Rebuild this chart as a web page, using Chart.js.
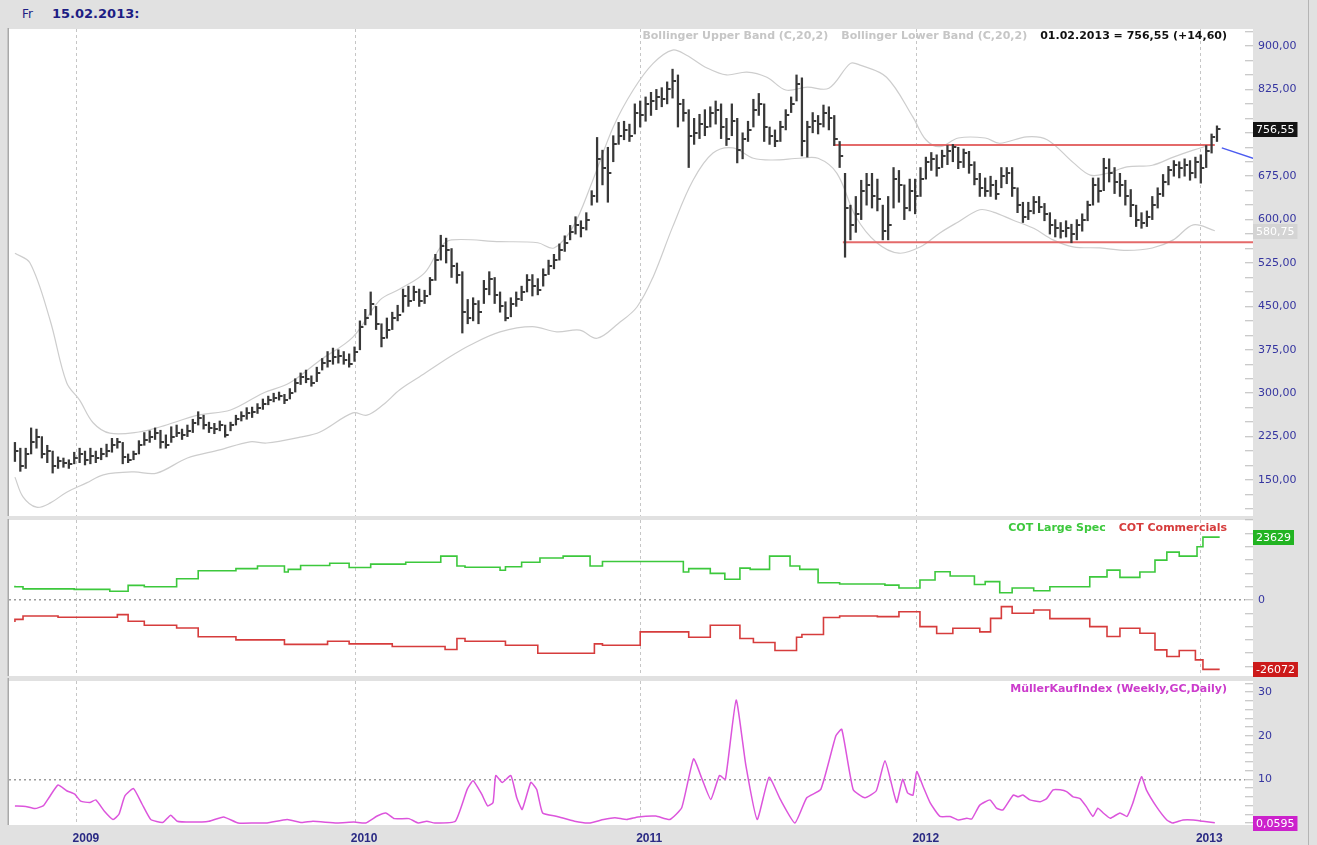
<!DOCTYPE html>
<html>
<head>
<meta charset="utf-8">
<title>GC weekly</title>
<script src="https://cdn.jsdelivr.net/npm/chart.js@4.4.1/dist/chart.umd.min.js"></script>
<style>
  html, body { margin: 0; padding: 0; }
  body { width: 1317px; height: 845px; background: #e1e1e1; position: relative; overflow: hidden; font-family: "DejaVu Sans", sans-serif; }
  canvas { position: absolute; left: 0; }
  .head { position: absolute; top: 7px; color: #1d1d84; white-space: pre; }
  #edge { position: absolute; left: 1308px; top: 0; width: 1px; height: 845px; background: #b4b4b4; }
</style>
</head>
<body>
<div class="head" style="left:22px;font-size:12px">Fr</div>
<div class="head" style="left:52px;font-size:13px;font-weight:bold;top:6px">15.02.2013:</div>
<div id="edge"></div>
<canvas id="priceChart" width="1317" height="490" style="top:28px"></canvas>
<canvas id="cotChart" width="1317" height="159" style="top:519px"></canvas>
<canvas id="kaufChart" width="1317" height="167" style="top:678px"></canvas>
<script>
"use strict";

Chart.defaults.font.family = "'DejaVu Sans', sans-serif";

// x axis runs in weeks, bar 0 = first weekly bar on the left
const weekMin = -1.1;
const weekMax = 228.2;
const yearWeeks = [11.5, 63.1, 116.0, 167.3, 219.9];
const yearLabels = ["2009", "2010", "2011", "2012", "2013"];

// weekly bars
const highs = [
  215, 205, 205, 240, 238, 225, 210, 200, 190, 188, 185, 198,
  205, 200, 205, 200, 205, 212, 222, 222,
  215, 195, 200, 218, 232, 235, 240, 236, 228, 242,
  245, 238, 245, 255, 268, 262, 250, 248, 252, 245,
  250, 262, 268, 275, 276, 282, 290, 295, 300, 302,
  298, 308, 325, 335, 340, 330, 345, 360, 372, 378,
  375, 372, 368, 380, 425, 445, 475, 450, 420, 430,
  440, 452, 480, 485, 485, 480, 478, 500, 540, 573,
  568, 550, 525, 510, 462, 465, 460, 495, 510, 500,
  475, 458, 465, 475, 485, 505, 505, 498, 515, 530,
  540, 558, 572, 590, 605, 598, 612, 650, 742, 720,
  725, 745, 768, 770, 765, 800, 805, 812, 820, 825,
  828, 838, 860, 850, 808, 790, 775, 782, 790, 795,
  805, 800, 775, 800, 775, 750, 770, 808, 818, 800,
  760, 755, 770, 790, 812, 850, 845, 770, 785, 780,
  798, 795, 780, 735, 680, 625, 640, 668, 680, 680,
  670, 625, 640, 690, 685, 660, 670, 670, 690, 708,
  716, 712, 720, 728, 730, 725, 722, 718, 700, 680,
  672, 675, 668, 690, 690, 690, 655, 630, 630, 640,
  640, 628, 612, 600, 595, 598, 592, 600, 610, 632,
  672, 672, 706, 705, 690, 680, 668, 652, 625, 612,
  615, 640, 655, 678, 692, 702, 700, 705, 702, 708,
  712, 728, 748, 762
];
const lows = [
  182, 165, 170, 195, 205, 188, 180, 162, 170, 172, 170, 178,
  180, 176, 178, 180, 185, 190, 198, 205,
  178, 180, 185, 195, 210, 215, 220, 205, 205, 215,
  225, 220, 225, 232, 245, 238, 232, 230, 235, 224,
  235, 245, 252, 255, 258, 265, 272, 280, 285, 288,
  282, 290, 302, 315, 318, 312, 320, 340, 345, 350,
  352, 350, 345, 355, 375, 418, 435, 410, 380, 395,
  410, 425, 440, 450, 460, 450, 455, 470, 495, 530,
  525, 500, 490, 404, 420, 425, 420, 455, 470, 455,
  440, 425, 432, 450, 460, 475, 468, 470, 485, 505,
  515, 530, 545, 565, 575, 570, 582, 625, 630, 660,
  630, 700, 730, 738, 735, 748, 760, 770, 780, 790,
  795, 800, 810, 760, 770, 690, 730, 740, 745, 760,
  765, 740, 728, 745, 698, 705, 735, 760, 780, 735,
  730, 726, 735, 755, 785, 805, 710, 708, 750, 748,
  760, 755, 728, 690, 535, 565, 578, 600, 625, 620,
  615, 565, 565, 620, 630, 600, 615, 610, 640, 670,
  685, 675, 690, 695, 700, 688, 690, 680, 660, 640,
  640, 640, 635, 655, 662, 640, 612, 595, 600, 610,
  612, 598, 575, 570, 568, 570, 560, 565, 580, 598,
  625, 630, 650, 665, 645, 640, 625, 605, 588, 585,
  588, 600, 620, 640, 660, 675, 672, 675, 668, 672,
  663, 690, 715, 735
];
const closes = [
  200, 175, 195, 215, 225, 195, 200, 175, 182, 180, 178, 188,
  195, 185, 192, 188, 195, 200, 210, 215,
  190, 185, 195, 210, 220, 225, 232, 215, 210, 225,
  232, 228, 235, 248, 258, 245, 240, 238, 245, 228,
  245, 255, 260, 265, 268, 275, 282, 288, 292, 296,
  288, 300, 318, 328, 325, 318, 335, 352, 355, 362,
  365, 358, 350, 372, 415, 430, 455, 420, 395, 410,
  430, 435, 468, 460, 475, 460, 468, 495, 530, 555,
  548, 520, 505, 440, 430, 455, 440, 480, 498, 470,
  450, 430, 455, 462, 475, 495, 485, 478, 505, 520,
  530, 548, 560, 578, 590, 585, 600, 640, 705, 690,
  680, 730, 745, 755, 745, 785, 780, 800, 805, 812,
  808, 825, 840, 800, 785, 745, 750, 765, 760, 785,
  790, 760, 740, 770, 720, 740, 755, 790, 800, 760,
  745, 735, 760, 780, 800, 835, 735, 760, 770, 765,
  785, 775, 740, 710, 620, 590, 610, 650, 660, 640,
  635, 580, 590, 670, 660, 620, 650, 640, 670, 700,
  705, 690, 710, 718, 725, 700, 715, 695, 670, 655,
  650, 660, 645, 675, 680, 655, 625, 605, 615, 630,
  622, 610, 590, 585, 580, 585, 575, 590, 600, 625,
  660, 650, 690, 680, 665, 660, 640, 625, 600, 595,
  605, 625, 645, 665, 685, 695, 690, 695, 680, 700,
  690, 718, 742, 756.55
];

// Bollinger bands (C,20,2)
const upperWeeks = [0, 2.8, 6.5, 9.6, 12, 14.5, 17.6, 23, 27, 34, 40, 46, 51, 56.6, 62.7, 67.7, 71.4, 76, 79, 81,
  90, 97, 100, 103.5, 107, 111, 114.7, 118.4, 122, 124.6, 128.4, 132, 135.8, 139.5, 143, 147, 151, 155, 156.8, 161.7,
  166.6, 169, 171.6, 175, 180, 182.7, 187.7, 191.5, 196.4, 199.5, 202.6, 206.3, 211, 214.9, 218.6, 221.7];
const upperBand = [542, 525, 427, 318, 288, 249, 231, 233, 242, 262, 271, 300, 318, 357, 397, 461, 480, 508, 553, 565,
  562, 560, 551, 587, 663, 760, 824, 870, 893, 884, 862, 850, 855, 846, 824, 829, 827, 870, 867, 846,
  777, 738, 726, 741, 741, 732, 743, 738, 698, 677, 680, 691, 694, 708, 720, 729];
const lowerWeeks = [0, 1.5, 4, 6.5, 9.6, 13.3, 16.4, 22, 26.3, 32, 38, 43.6, 46.7, 52.9, 56.6, 62.7, 65.3, 68.3, 71.4, 75,
  80.7, 84.4, 90, 96, 100.5, 104.8, 108, 112, 115.4, 118.4, 122, 125.8, 129.5, 133.2, 137, 140.6, 145.6, 149, 152.5, 156,
  159.9, 164, 168, 171.6, 175, 179, 181.5, 185.2, 189, 192.6, 196.3, 201.3, 206.3, 211, 214.9, 218.6, 222.6];
const lowerBand = [155, 121, 103, 110, 129, 145, 159, 164, 162, 188, 202, 216, 214, 224, 233, 266, 262, 280, 306, 328,
  363, 383, 406, 415, 406, 409, 395, 421, 449, 501, 587, 668, 715, 724, 706, 703, 706, 706, 680, 605,
  560, 542, 553, 577, 596, 617, 613, 599, 585, 565, 553, 551, 547, 551, 565, 591, 580.75];

// drawn lines
const resistanceWeeks = [151.8, 222.6];
const resistanceLevels = [729, 729];
const supportWeeks = [153.6, 229.7];
const supportLevels = [561, 561];
const trendWeeks = [223.9, 229.7];
const trendLevels = [724, 706];

const priceTickLabels = [150, 225, 300, 375, 450, 525, 600, 675, 750, 825, 900];

// COT
const specWeeks = [0, 1.5, 11, 17.6, 21, 24, 30, 34, 41, 45, 50, 50.7, 53, 58.4, 62, 66, 72.5, 79, 82, 83.5,
  90, 91, 94, 97.4, 101.7, 106.7, 109, 112, 124, 125, 129, 131.7, 134.5, 136.4, 140, 143.8, 145.6, 149, 153, 156.8,
  161.4, 164, 167.9, 170.7, 173.5, 178, 180, 182.7, 185, 189, 192, 199.4, 202.6, 205, 208.7, 211.5, 213.7, 216, 219.3, 220.4,
  222.3, 223.5];
const specValues = [5400, 5000, 4200, 4000, 3300, 5500, 5000, 8000, 11000, 11800, 12800, 10500, 11500, 13000, 13800, 12200, 13500, 14200, 16500, 12800,
  12300, 11200, 12500, 14200, 15800, 16500, 12800, 14500, 14500, 10500, 11800, 10000, 7800, 12000, 11500, 16500, 12800, 11500, 6500, 6000,
  6000, 5600, 4500, 7500, 10600, 9000, 5800, 6900, 2700, 4500, 3500, 5000, 8700, 11250, 8500, 10500, 15000, 18000, 16500, 20000,
  23629, 23629];
const commWeeks = [0, 1.5, 8, 19, 21, 24, 30, 34, 41, 50, 58, 62, 70, 79.8, 82, 83.5, 91, 97, 107.5, 109,
  116, 125, 129, 134.5, 137, 141, 145, 146, 150, 153, 160, 164, 167.9, 171, 174, 179, 181, 183, 185, 189,
  192, 199.4, 202.6, 205, 208.7, 211.5, 213.7, 216, 219, 220.4, 222.3, 223.5];
const commValues = [-8300, -7300, -6000, -6500, -5500, -8000, -9500, -10500, -13800, -15000, -16700, -15500, -16500, -17500, -18600, -14500, -15500, -17000, -20000, -16500,
  -17000, -12000, -14000, -9500, -14500, -16000, -19000, -14000, -13000, -6600, -6000, -6250, -4400, -10000, -12600, -10600, -12000, -6900, -2500, -5000,
  -3750, -7000, -10000, -13750, -10600, -12500, -18750, -21250, -19000, -22500, -26072, -26072];
const cotTickLabels = [0];

// MüllerKaufIndex
const kaufWeeks = [0, 2, 3.7, 5.3, 6.3, 8, 9.6, 11.1, 12.2, 13.9, 15, 16.6, 18.2, 19.3, 20.4, 22, 23.6, 25.2, 27.4, 28.9,
  30.1, 32.7, 36, 38.7, 41.4, 44.5, 46.8, 50.5, 53.2, 55.3, 59.7, 62.9, 65.1, 67.2, 68.8, 70.4, 73.1, 74.8, 76.4, 77.9,
  81.7, 83.9, 85, 86.6, 87.7, 88.7, 89.2, 90.4, 92, 93.1, 94.1, 95.7, 96.8, 97.9, 100.6, 103.8, 106.5, 109.2, 111.3, 113.5,
  115.6, 118.9, 121.5, 123.7, 125.9, 127.5, 129.1, 130.7, 131.8, 133.8, 135.6, 137.7, 139.9, 142, 144.7, 146.9, 149.5, 152.3, 153.4, 155.5,
  157.7, 159.8, 161.4, 163.1, 163.6, 164.7, 165.6, 166.6, 167.3, 168.5, 169.8, 171.6, 173.5, 175, 176.6, 177.5, 179, 180.9, 182.1, 183.3,
  185.2, 186.1, 187, 188.3, 190.2, 191.4, 192.6, 193.9, 195.1, 196.3, 197.6, 198.8, 200, 200.9, 201.9, 203.2, 205, 206.3, 207.4, 209,
  209.9, 211.8, 213.7, 214.8, 216.7, 218.6, 220.4, 222.6];
const kaufValues = [3.9, 3.8, 3.3, 4.0, 5.8, 8.7, 7.4, 6.6, 5.0, 4.7, 5.3, 2.7, 0.8, 2.0, 6.2, 7.9, 4.3, 0.8, 0.1, 1.8,
  0.4, 0.2, 0.4, 1.4, 0, 0, 0, 0.8, 0.1, 0.4, 0, 0.2, 0, 1.6, 2.3, 1.0, 1.0, 0, 0.4, 0,
  0.4, 7.7, 9.7, 6.6, 3.9, 4.7, 10.9, 9.3, 10.9, 5.8, 3.1, 9.3, 7.7, 2.3, 1.5, 0.4, 0, 0.8, 1.2, 0.8,
  1.4, 1.6, 0.8, 3.5, 14.7, 10, 5.4, 10.9, 10, 28.2, 13.2, 0.8, 10.5, 5.4, 0, 5.8, 7.7, 20, 21.5, 7.7,
  5.8, 7.4, 14.3, 6.6, 4.7, 10, 6.9, 6.4, 11.8, 8.3, 4.6, 1.5, 1.5, 0.7, 1.1, 0.9, 4.1, 5.3, 3.4, 3.0,
  6.4, 6.0, 6.4, 5.3, 4.9, 5.6, 7.6, 7.6, 7.2, 6.0, 5.6, 3.7, 1.5, 3.4, 2.3, 1.1, 2.3, 1.5, 4.6, 10.6,
  7.6, 3.7, 0.7, 0, 0.7, 0.7, 0.4, 0.0595];
const kaufTickLabels = [10, 20, 30];

function points(xs, ys) {
  return xs.map((x, i) => ({ x: x, y: ys[i] }));
}
function comma(v, digits) {
  return v.toFixed(digits).replace(".", ",");
}
function range(from, to, step) {
  const out = [];
  for (let v = from; v <= to; v += step) out.push(v);
  return out;
}
// keep the plot area exactly where the layout padding puts it
function noOverflow(s) {
  s.paddingTop = 0;
  s.paddingBottom = 0;
  s.paddingLeft = 0;
  s.paddingRight = 0;
}

// white plot paper + left frame line
const paperPlugin = {
  id: "paper",
  beforeDraw(chart) {
    const ctx = chart.ctx;
    const a = chart.chartArea;
    ctx.save();
    ctx.fillStyle = "#ffffff";
    ctx.fillRect(a.left, a.top, a.right - a.left + 8, a.bottom - a.top);
    ctx.strokeStyle = "#a9a9a9";
    ctx.lineWidth = 1.5;
    ctx.beginPath();
    ctx.moveTo(a.left - 0.75, 0);
    ctx.lineTo(a.left - 0.75, a.bottom);
    ctx.stroke();
    ctx.restore();
  }
};

function textRow(items, y) {
  return {
    id: "textRow",
    afterDraw(chart) {
      const ctx = chart.ctx;
      ctx.save();
      ctx.font = "bold 11px 'DejaVu Sans'";
      ctx.textBaseline = "middle";
      ctx.textAlign = "right";
      let x = 1227;
      for (let i = items.length - 1; i >= 0; i--) {
        ctx.fillStyle = items[i].color;
        ctx.fillText(items[i].text, x, y);
        x -= ctx.measureText(items[i].text).width + 13;
      }
      ctx.restore();
    }
  };
}

function valueBoxes(list) {
  return {
    id: "valueBoxes",
    afterDraw(chart) {
      const ctx = chart.ctx;
      const scale = chart.scales.y;
      const x0 = chart.chartArea.right + 8;
      ctx.save();
      ctx.font = "11px 'DejaVu Sans'";
      ctx.textBaseline = "middle";
      ctx.textAlign = "left";
      list.forEach(b => {
        const y = Math.round(scale.getPixelForValue(b.value));
        const w = ctx.measureText(b.text).width + 6;
        ctx.fillStyle = b.bg;
        ctx.fillRect(x0, y - 7, w, 15);
        ctx.fillStyle = b.fg;
        ctx.fillText(b.text, x0 + 3, y + 1);
      });
      ctx.restore();
    }
  };
}

function xAxis(showLabels) {
  return {
    type: "linear",
    min: weekMin,
    max: weekMax,
    offset: false,
    afterBuildTicks: s => { s.ticks = yearWeeks.map(v => ({ value: v })); },
    grid: { color: "#c6c6c6", drawTicks: false, offset: false, lineWidth: 1 },
    border: { display: false, dash: [3, 3] },
    ticks: {
      display: showLabels,
      autoSkip: false,
      maxRotation: 0,
      padding: 6,
      labelOffset: 9,
      color: "#2a2a84",
      font: { family: "'Liberation Sans'", size: 12, weight: "bold" },
      callback: (v, i) => yearLabels[i]
    },
    afterFit: s => { noOverflow(s); s.height = showLabels ? 20 : 0; }
  };
}

function yAxis(min, max, ticks, labelFn, dashAt) {
  return {
    position: "right",
    min: min,
    max: max,
    afterBuildTicks: s => { s.ticks = ticks.map(v => ({ value: v })); },
    grid: {
      drawOnChartArea: dashAt !== null,
      color: c => (c.tick && c.tick.value === dashAt ? "#9c9c9c" : "rgba(0,0,0,0)"),
      lineWidth: 1.5,
      tickLength: 8,
      tickWidth: 1,
      tickColor: "#b9b9b9"
    },
    border: { display: false, dash: [2, 3] },
    ticks: { autoSkip: false, color: "#3535a0", padding: 5, font: { size: 11 }, callback: labelFn },
    afterFit: s => { noOverflow(s); s.width = 72; }
  };
}

const baseOptions = (pad, scales) => ({
  responsive: false,
  animation: false,
  events: [],
  layout: { autoPadding: false, padding: pad },
  plugins: { legend: { display: false }, tooltip: { enabled: false } },
  scales: scales
});

// small right-hand close tick for the bars
const closeTick = document.createElement("canvas");
closeTick.width = 9;
closeTick.height = 2;
const tickCtx = closeTick.getContext("2d");
tickCtx.fillStyle = "#383838";
tickCtx.fillRect(5, 0, 3, 2);

const lastClose = closes[closes.length - 1];
const lastLower = lowerBand[lowerBand.length - 1];

new Chart(document.getElementById("priceChart"), {
  type: "bar",
  data: {
    datasets: [
      { type: "line", data: points(upperWeeks, upperBand), borderColor: "#cdcdcd", borderWidth: 1.2, pointRadius: 0, tension: 0.35, order: 4 },
      { type: "line", data: points(lowerWeeks, lowerBand), borderColor: "#cdcdcd", borderWidth: 1.2, pointRadius: 0, tension: 0.35, order: 4 },
      { type: "line", data: points(resistanceWeeks, resistanceLevels), borderColor: "#e46a6a", borderWidth: 2, pointRadius: 0, order: 3 },
      { type: "line", data: points(supportWeeks, supportLevels), borderColor: "#e46a6a", borderWidth: 2, pointRadius: 0, order: 3,
        clip: { left: 0, top: 0, right: 8, bottom: 0 } },
      { type: "line", data: points(trendWeeks, trendLevels), borderColor: "#4b5bf0", borderWidth: 1.5, pointRadius: 0, order: 3,
        clip: { left: 0, top: 0, right: 8, bottom: 0 } },
      { type: "bar", data: highs.map((h, i) => ({ x: i, y: [lows[i], h] })), backgroundColor: "#383838", barThickness: 1.6, grouped: false, order: 2 },
      { type: "scatter", data: closes.map((c, i) => ({ x: i, y: c })), pointStyle: closeTick, pointRadius: 2, order: 1 }
    ]
  },
  options: baseOptions({ left: 9, right: 0, top: 1, bottom: 2 }, {
    x: xAxis(false),
    y: yAxis(87.8, 929.4, range(100, 925, 25), v => (priceTickLabels.includes(v) ? comma(v, 2) : ""), null)
  }),
  plugins: [
    paperPlugin,
    textRow([
      { text: "Bollinger Upper Band (C,20,2)", color: "#c6c6c6" },
      { text: "Bollinger Lower Band (C,20,2)", color: "#c6c6c6" },
      { text: "01.02.2013 = 756,55 (+14,60)", color: "#111111" }
    ], 8),
    valueBoxes([
      { value: lastClose, text: comma(lastClose, 2), bg: "#141414", fg: "#ffffff" },
      { value: lastLower, text: comma(lastLower, 2), bg: "#d4d4d4", fg: "#ffffff" }
    ])
  ]
});

new Chart(document.getElementById("cotChart"), {
  type: "line",
  data: {
    datasets: [
      { data: points(specWeeks, specValues), borderColor: "#3cc83c", borderWidth: 1.6, pointRadius: 0, stepped: "after" },
      { data: points(commWeeks, commValues), borderColor: "#d63c3c", borderWidth: 1.6, pointRadius: 0, stepped: "after" }
    ]
  },
  options: baseOptions({ left: 9, right: 0, top: 1, bottom: 2 }, {
    x: xAxis(false),
    y: yAxis(-28576, 30080, range(-25000, 30000, 5000), v => (cotTickLabels.includes(v) ? String(v) : ""), 0)
  }),
  plugins: [
    paperPlugin,
    textRow([
      { text: "COT Large Spec", color: "#3cc83c" },
      { text: "COT Commercials", color: "#d63c3c" }
    ], 9),
    valueBoxes([
      { value: specValues[specValues.length - 1], text: String(specValues[specValues.length - 1]), bg: "#22b422", fg: "#ffffff" },
      { value: commValues[commValues.length - 1], text: String(commValues[commValues.length - 1]), bg: "#cc1a1a", fg: "#ffffff" }
    ])
  ]
});

const lastKauf = kaufValues[kaufValues.length - 1];

new Chart(document.getElementById("kaufChart"), {
  type: "line",
  data: {
    datasets: [
      { data: points(kaufWeeks, kaufValues), borderColor: "#dc55dc", borderWidth: 1.5, pointRadius: 0, tension: 0.15 }
    ]
  },
  options: baseOptions({ left: 9, right: 0, top: 3, bottom: 0 }, {
    x: xAxis(true),
    y: yAxis(-0.46, 32.57, range(0, 32, 2), v => (kaufTickLabels.includes(v) ? String(v) : ""), 10)
  }),
  plugins: [
    paperPlugin,
    textRow([{ text: "MüllerKaufIndex (Weekly,GC,Daily)", color: "#cc3ccc" }], 11),
    valueBoxes([{ value: lastKauf, text: comma(lastKauf, 4), bg: "#cc22cc", fg: "#ffffff" }])
  ]
});
</script>
</body>
</html>
